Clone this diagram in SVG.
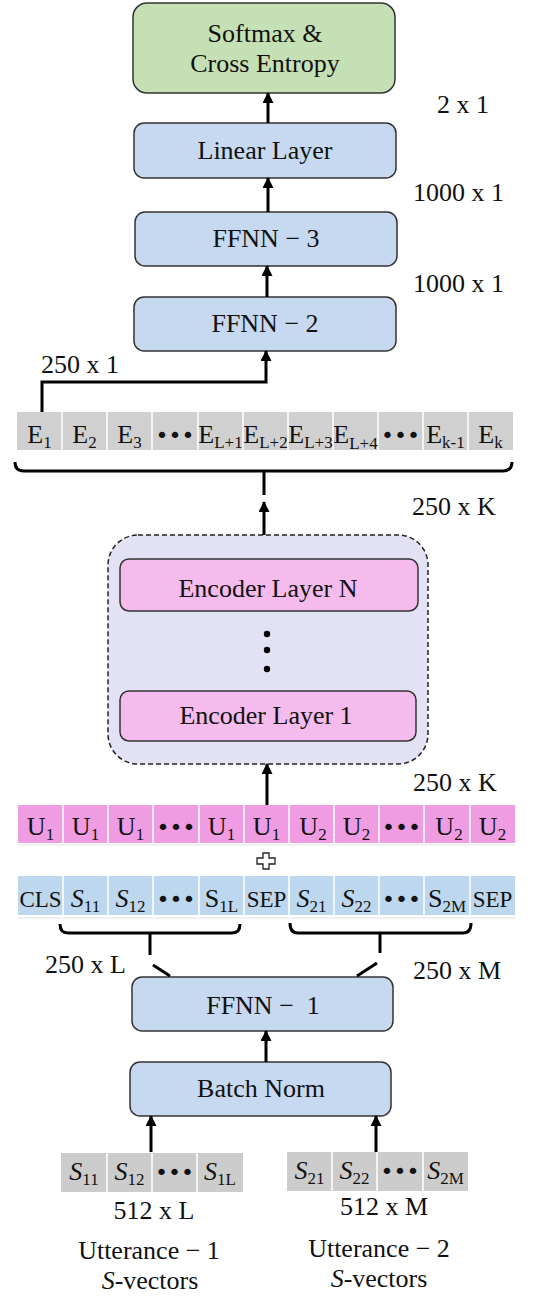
<svg xmlns="http://www.w3.org/2000/svg" width="538" height="1296" viewBox="0 0 538 1296">
<defs>
<marker id="ah" markerUnits="userSpaceOnUse" markerWidth="11" markerHeight="11" refX="10" refY="5.5" orient="auto">
<path d="M0,0 L11,5.5 L0,11 Z" fill="#000"/>
</marker>
<style>
text{font-family:"Liberation Serif","Times New Roman",serif;fill:#111;font-size:26px}
.c{text-anchor:middle}
.box{stroke:#333;stroke-width:1.5}
.blue{fill:#c6d9f0}
.cell{font-size:26px}
.sub{font-size:17px}
.dots{font-family:"DejaVu Sans",sans-serif;font-size:22px}
.sep{stroke:#fff;stroke-width:1.5}
.conn{fill:none;stroke:#000;stroke-width:3}
.tok{font-size:23px}
</style>
</defs>
<rect width="538" height="1296" fill="#fff"/>

<g id="softmax">
<rect class="box" x="133" y="3" width="262" height="90" rx="14" fill="#c5e0b4"/>
<text class="c" x="265" y="42">Softmax &amp;</text>
<text class="c" x="265" y="72">Cross Entropy</text>
</g>
<g id="linear">
<rect class="box blue" x="134" y="123" width="262" height="55" rx="10"/>
<text class="c" x="265" y="159">Linear Layer</text>
</g>
<g id="ffnn3">
<rect class="box blue" x="135" y="212" width="262" height="54" rx="10"/>
<text class="c" x="266" y="247">FFNN − 3</text>
</g>
<g id="ffnn2">
<rect class="box blue" x="134" y="297" width="262" height="54" rx="10"/>
<text class="c" x="265" y="332">FFNN − 2</text>
</g>

<g id="dim-labels">
<text x="437" y="113">2 x 1</text>
<text x="413" y="201">1000 x 1</text>
<text x="413" y="292">1000 x 1</text>
<text x="41" y="373">250 x 1</text>
<text x="412" y="515">250 x K</text>
<text x="413" y="791">250 x K</text>
<text x="45" y="973">250 x L</text>
<text x="413" y="979">250 x M</text>
<text class="c" x="154" y="1219">512 x L</text>
<text class="c" x="384" y="1215">512 x M</text>
</g>

<g id="e-row">
<rect x="17" y="412" width="496" height="38" fill="#d0d0d0"/>
<path class="sep" d="M62,412V450M107,412V450M152,412V450M198,412V450M243,412V450M288,412V450M333,412V450M378,412V450M423,412V450M468,412V450"/>
<text class="c cell" x="39.5" y="443">E<tspan class="sub" dy="5">1</tspan></text>
<text class="c cell" x="84.5" y="443">E<tspan class="sub" dy="5">2</tspan></text>
<text class="c cell" x="129.5" y="443">E<tspan class="sub" dy="5">3</tspan></text>
<text class="c dots" x="175" y="443">•••</text>
<text class="c cell" x="220.5" y="443">E<tspan class="sub" dy="5">L+1</tspan></text>
<text class="c cell" x="265.5" y="443">E<tspan class="sub" dy="5">L+2</tspan></text>
<text class="c cell" x="310.5" y="443">E<tspan class="sub" dy="5">L+3</tspan></text>
<text class="c cell" x="355.5" y="443">E<tspan class="sub" dy="6">L+4</tspan></text>
<text class="c dots" x="400.5" y="443">•••</text>
<text class="c cell" x="445.5" y="443">E<tspan class="sub" dy="5">k-1</tspan></text>
<text class="c cell" x="490.5" y="443">E<tspan class="sub" dy="5">k</tspan></text>
</g>

<g id="encoder">
<rect x="108" y="535" width="320" height="229" rx="30" fill="#e3e2f4" stroke="#222" stroke-width="1.5" stroke-dasharray="5,3"/>
<g id="enc-n">
<rect class="box" x="120" y="559" width="298" height="52" rx="9" fill="#f4bbec"/>
<text class="c" x="268" y="597">Encoder Layer N</text>
</g>
<circle cx="267" cy="634" r="3.2" fill="#000"/>
<circle cx="267" cy="650" r="3.2" fill="#000"/>
<circle cx="267" cy="669" r="3.2" fill="#000"/>
<g id="enc-1">
<rect class="box" x="120" y="691" width="296" height="50" rx="9" fill="#f4bbec"/>
<text class="c" x="266" y="724">Encoder Layer 1</text>
</g>
</g>

<g id="u-row">
<rect x="18" y="805" width="497" height="38" fill="#f09ce2"/>
<line x1="18" y1="845" x2="515" y2="845" stroke="#ececec" stroke-width="1.5"/>
<path class="sep" d="M63,805V843M108,805V843M153,805V843M199,805V843M244,805V843M289,805V843M334,805V843M379,805V843M424,805V843M470,805V843"/>
<text class="c cell" x="40.5" y="835">U<tspan class="sub" dy="5">1</tspan></text>
<text class="c cell" x="85.5" y="835">U<tspan class="sub" dy="5">1</tspan></text>
<text class="c cell" x="130.5" y="835">U<tspan class="sub" dy="5">1</tspan></text>
<text class="c dots" x="176" y="835">•••</text>
<text class="c cell" x="221.5" y="835">U<tspan class="sub" dy="5">1</tspan></text>
<text class="c cell" x="266.5" y="835">U<tspan class="sub" dy="5">1</tspan></text>
<text class="c cell" x="313" y="835">U<tspan class="sub" dy="5">2</tspan></text>
<text class="c cell" x="356.5" y="835">U<tspan class="sub" dy="5">2</tspan></text>
<text class="c dots" x="401.5" y="835">•••</text>
<text class="c cell" x="449" y="835">U<tspan class="sub" dy="5">2</tspan></text>
<text class="c cell" x="492.5" y="835">U<tspan class="sub" dy="5">2</tspan></text>
</g>

<g id="plus">
<path d="M263,853H269V858H275V864H269V869H263V864H257V858H263Z" fill="#fff" stroke="#222" stroke-width="1.3"/>
</g>

<g id="s-row">
<rect x="18" y="876" width="497" height="39" fill="#bdd7ee"/>
<line x1="18" y1="918" x2="515" y2="918" stroke="#ececec" stroke-width="1.5"/>
<path class="sep" d="M63,876V915M108,876V915M153,876V915M199,876V915M244,876V915M289,876V915M334,876V915M379,876V915M424,876V915M470,876V915"/>
<text class="c tok" x="40.5" y="907">CLS</text>
<text class="c cell" x="85.5" y="907"><tspan font-style="italic">S</tspan><tspan class="sub" dy="5">11</tspan></text>
<text class="c cell" x="130.5" y="907"><tspan font-style="italic">S</tspan><tspan class="sub" dy="5">12</tspan></text>
<text class="c dots" x="176" y="907">•••</text>
<text class="c cell" x="221.5" y="907">S<tspan class="sub" dy="5">1L</tspan></text>
<text class="c tok" x="266.5" y="907">SEP</text>
<text class="c cell" x="311.5" y="907"><tspan font-style="italic">S</tspan><tspan class="sub" dy="5">21</tspan></text>
<text class="c cell" x="356.5" y="907"><tspan font-style="italic">S</tspan><tspan class="sub" dy="5">22</tspan></text>
<text class="c dots" x="401.5" y="907">•••</text>
<text class="c cell" x="447" y="907">S<tspan class="sub" dy="5">2M</tspan></text>
<text class="c tok" x="492.5" y="907">SEP</text>
</g>

<g id="ffnn1">
<rect class="box blue" x="132" y="977" width="261" height="54" rx="10"/>
<text class="c" x="263" y="1014" xml:space="preserve">FFNN −  1</text>
</g>
<g id="batchnorm">
<rect class="box blue" x="130" y="1062" width="261" height="54" rx="10"/>
<text class="c" x="261" y="1097">Batch Norm</text>
</g>

<g id="s-utt1">
<rect x="61" y="1153" width="182" height="39" fill="#cccccc"/>
<path class="sep" d="M107,1153V1192M152,1153V1192M197,1153V1192"/>
<text class="c cell" x="84" y="1180"><tspan font-style="italic">S</tspan><tspan class="sub" dy="5">11</tspan></text>
<text class="c cell" x="129.5" y="1180"><tspan font-style="italic">S</tspan><tspan class="sub" dy="5">12</tspan></text>
<text class="c dots" x="174.5" y="1180">•••</text>
<text class="c cell" x="220" y="1180"><tspan font-style="italic">S</tspan><tspan class="sub" dy="5">1L</tspan></text>
</g>
<g id="s-utt2">
<rect x="287" y="1152" width="181" height="39" fill="#cccccc"/>
<path class="sep" d="M332,1152V1191M377,1152V1191M423,1152V1191"/>
<text class="c cell" x="309.5" y="1179"><tspan font-style="italic">S</tspan><tspan class="sub" dy="5">21</tspan></text>
<text class="c cell" x="354.5" y="1179"><tspan font-style="italic">S</tspan><tspan class="sub" dy="5">22</tspan></text>
<text class="c dots" x="400" y="1179">•••</text>
<text class="c cell" x="445.5" y="1179"><tspan font-style="italic">S</tspan><tspan class="sub" dy="5">2M</tspan></text>
</g>

<g id="utt1-label">
<text class="c" x="149" y="1259">Utterance − 1</text>
<text class="c" x="150" y="1289"><tspan font-style="italic">S</tspan>-vectors</text>
</g>
<g id="utt2-label">
<text class="c" x="379" y="1257">Utterance − 2</text>
<text class="c" x="379" y="1287"><tspan font-style="italic">S</tspan>-vectors</text>
</g>

<g id="connectors">
<line class="conn" x1="268" y1="123" x2="268" y2="93" marker-end="url(#ah)"/>
<line class="conn" x1="268" y1="212" x2="268" y2="178" marker-end="url(#ah)"/>
<line class="conn" x1="267" y1="297" x2="267" y2="266" marker-end="url(#ah)"/>
<path class="conn" d="M42,412V382H266V351" marker-end="url(#ah)"/>
<path class="conn" d="M15,462Q15,471 24,471H503Q512,471 512,462M264,471V495"/>
<line class="conn" x1="264" y1="535" x2="264" y2="502" marker-end="url(#ah)"/>
<line class="conn" x1="267" y1="805" x2="267" y2="764" marker-end="url(#ah)"/>
<path class="conn" d="M60,924Q60,933 68,933H232Q240,933 240,924M150,933V955"/>
<path class="conn" d="M290,923Q290,933 298,933H463Q471,933 471,923M380,933V953"/>
<line class="conn" x1="153" y1="965" x2="170" y2="976"/>
<line class="conn" x1="377" y1="963" x2="357" y2="976"/>
<line class="conn" x1="266" y1="1062" x2="266" y2="1031" marker-end="url(#ah)"/>
<line class="conn" x1="151" y1="1152" x2="151" y2="1116" marker-end="url(#ah)"/>
<line class="conn" x1="376" y1="1152" x2="376" y2="1116" marker-end="url(#ah)"/>
</g>
</svg>
